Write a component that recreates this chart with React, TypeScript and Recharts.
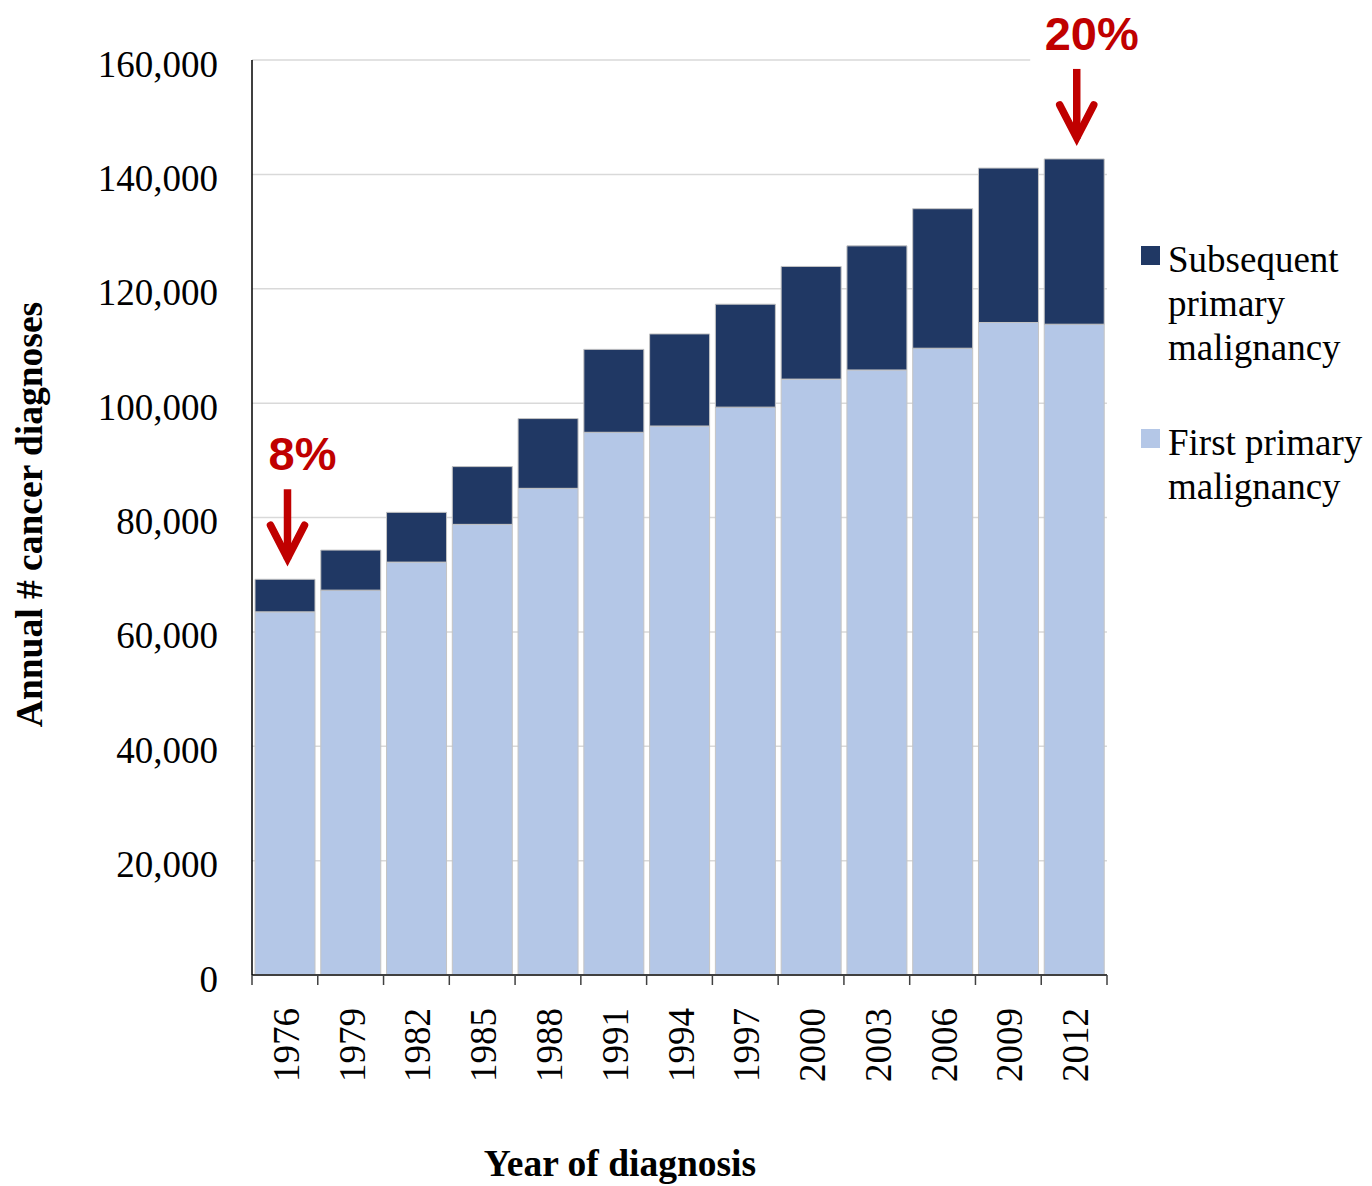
import React from 'react';
import { BarChart, Bar, XAxis, YAxis, CartesianGrid, Legend, LabelList } from 'recharts';

const years = ['1976', '1979', '1982', '1985', '1988', '1991', '1994', '1997', '2000', '2003', '2006', '2009', '2012'];
const firstPrimary = [63500, 67300, 72200, 78800, 85100, 94900, 96000, 99300, 104200, 105800, 109600, 114100, 113800];
const subsequentPrimary = [5700, 7000, 8700, 10100, 12200, 14500, 16100, 18000, 19700, 21700, 24400, 27000, 28900];
const yTicks = [0, 20000, 40000, 60000, 80000, 100000, 120000, 140000, 160000];
const annotationYears = ['1976', '2012'];
const annotationLabels = ['8%', '20%'];
const seriesNames = ['First primary malignancy', 'Subsequent primary malignancy'];
const seriesColors = ['#B4C7E7', '#203864'];
const yAxisTitle = 'Annual # cancer diagnoses';
const xAxisTitle = 'Year of diagnosis';

const data = years.map((year, i) => ({
  year,
  first: firstPrimary[i],
  subsequent: subsequentPrimary[i],
}));

const SERIF = '"Liberation Serif", "Times New Roman", serif';
const SANS = '"Liberation Sans", Arial, sans-serif';
const RED = '#C00000';
const FS = 37;
const TITLE_FS = 37.5;

const fmt = (v: number) => v.toLocaleString('en-US');

const XTick = (props: any) => {
  const { x, y, payload, index, visibleTicksCount } = props;
  const off = payload && typeof payload.offset === 'number' ? payload.offset : 32.9;
  return (
    <g>
      <line x1={x - off} x2={x - off} y1={y} y2={y + 10} stroke="#404040" strokeWidth={1.5} />
      {index === visibleTicksCount - 1 && (
        <line x1={x + off} x2={x + off} y1={y} y2={y + 10} stroke="#404040" strokeWidth={1.5} />
      )}
      <text
        transform={`translate(${x + 14},${y + 33}) rotate(-90)`}
        textAnchor="end"
        fontSize={FS}
        fontFamily={SERIF}
        fill="#000"
      >
        {payload.value}
      </text>
    </g>
  );
};

const YTick = (props: any) => {
  const { x, y, payload } = props;
  return (
    <text x={x} y={y + 16.5} textAnchor="end" fontSize={FS} fontFamily={SERIF} fill="#000">
      {fmt(payload.value)}
    </text>
  );
};

const YLabel = (props: any) => {
  const vb = props.viewBox || { x: 0, y: 60, width: 252, height: 915 };
  const cx = vb.x + 42;
  const cy = vb.y + vb.height / 2 - 3;
  return (
    <text
      transform={`translate(${cx},${cy}) rotate(-90)`}
      textAnchor="middle"
      fontSize={TITLE_FS}
      fontWeight="bold"
      fontFamily={SERIF}
      fill="#000"
    >
      {yAxisTitle}
    </text>
  );
};

const XLabel = (props: any) => {
  const vb = props.viewBox || { x: 252, y: 975, width: 855, height: 120 };
  return (
    <text
      x={vb.x + vb.width / 2 - 59.5}
      y={vb.y + 201}
      textAnchor="middle"
      fontSize={TITLE_FS}
      fontWeight="bold"
      fontFamily={SERIF}
      fill="#000"
    >
      {xAxisTitle}
    </text>
  );
};

const Annotation = (props: any) => {
  const { x, y, width, index } = props;
  const year = years[index];
  const i = annotationYears.indexOf(year);
  if (i < 0) return null;
  const label = annotationLabels[i];
  const ax = x + width / 2 + 2.5;
  const tip = y - 14;
  const shaftTop = tip - 76;
  const base = shaftTop - 19;
  const tx = ax + 15;
  const rw = label.length * 31 + 30;
  return (
    <g>
      <rect x={tx - rw / 2} y={base - 50} width={rw} height={66} fill="#fff" />
      <text x={tx} y={base} textAnchor="middle" fontFamily={SANS} fontWeight="bold" fontSize={47} fill={RED}>
        {label}
      </text>
      <line x1={ax} x2={ax} y1={shaftTop} y2={tip - 6} stroke={RED} strokeWidth={7.5} />
      <polyline
        points={`${ax - 17},${tip - 40} ${ax},${tip - 7} ${ax + 17},${tip - 40}`}
        fill="none"
        stroke={RED}
        strokeWidth={7.5}
        strokeLinecap="round"
        strokeLinejoin="miter"
      />
    </g>
  );
};

const LegendContent = () => (
  <div style={{ fontFamily: SERIF, fontSize: FS, lineHeight: '44px', color: '#000', width: 231 }}>
    {[1, 0].map((si, k) => (
      <div key={si} style={{ position: 'relative', paddingLeft: 27, marginTop: k ? 51 : 0, width: 205 }}>
        <div
          style={{ position: 'absolute', left: 0, top: 8, width: 19, height: 19, background: seriesColors[si] }}
        />
        {seriesNames[si]}
      </div>
    ))}
  </div>
);

function labelFn(C: any) {
  return (props: any) => <C {...props} />;
}

export default function App() {
  return (
    <div style={{ position: 'absolute', left: 0, top: 0, width: 1372, height: 1186, background: '#fff' }}>
      <BarChart
        width={1372}
        height={1186}
        data={data}
        margin={{ top: 60, right: 265, bottom: 91, left: 0 }}
        barCategoryGap={3}
      >
        <CartesianGrid vertical={false} stroke="#d9d9d9" strokeWidth={1.5} />
        <XAxis
          dataKey="year"
          height={120}
          interval={0}
          tickLine={false}
          tickSize={0}
          tickMargin={0}
          axisLine={{ stroke: '#404040', strokeWidth: 2 }}
          tick={<XTick />}
          label={labelFn(XLabel)}
        />
        <YAxis
          width={252}
          domain={[0, 160000]}
          ticks={yTicks}
          interval={0}
          tickLine={false}
          tickSize={0}
          tickMargin={34}
          axisLine={{ stroke: '#000', strokeWidth: 1.5 }}
          tick={<YTick />}
          label={labelFn(YLabel)}
        />
        <Legend
          layout="vertical"
          align="center"
          verticalAlign="middle"
          content={<LegendContent />}
          wrapperStyle={{ left: 1141, top: 238, width: 231, margin: 0 }}
        />
        <Bar
          dataKey="first"
          name={seriesNames[0]}
          stackId="a"
          fill={seriesColors[0]}
          stroke="#c4c4c4"
          strokeWidth={1}
          isAnimationActive={false}
        />
        <Bar
          dataKey="subsequent"
          name={seriesNames[1]}
          stackId="a"
          fill={seriesColors[1]}
          stroke="#c4c4c4"
          strokeWidth={1}
          isAnimationActive={false}
        >
          <LabelList dataKey="subsequent" content={<Annotation />} />
        </Bar>
      </BarChart>
    </div>
  );
}
